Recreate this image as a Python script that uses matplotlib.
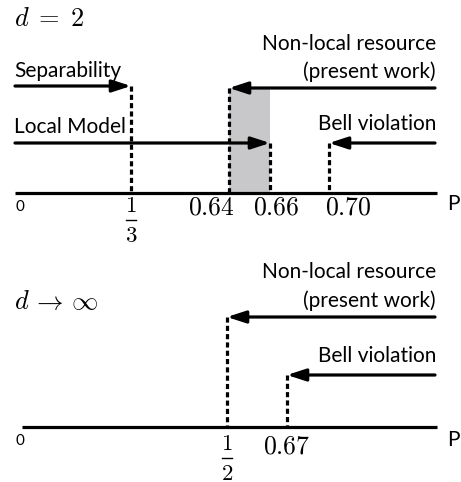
import matplotlib
matplotlib.use('Agg')
import matplotlib.pyplot as plt

plt.rcParams['font.family'] = ['Lato', 'DejaVu Sans']
plt.rcParams['mathtext.fontset'] = 'cm'

# --- d = 2 panel: thresholds on p (drawn schematically, not to scale)
d2_values = [1/3, 0.64, 0.66, 0.70]
d2_labels = [('1', '3'), r'$0.64$', r'$0.66$', r'$0.70$']
d2_xpos = [131, 229, 270, 329]   # schematic positions along the axis

# --- d -> infinity panel
dinf_values = [0.5, 0.67]
dinf_labels = [('1', '2'), r'$0.67$']
dinf_xpos = [227, 287]

LW = 2.3
DASH = (0, (1.6, 1.0))
GREY = '#c8c8ca'

fig = plt.figure(figsize=(4.61, 4.82), dpi=100)
ax = fig.add_axes([0, 0, 1, 1])
ax.set_xlim(0, 461)
ax.set_ylim(482, 0)
ax.axis('off')


def arrow(x0, x1, y):
    ax.annotate('', xy=(x1, y), xytext=(x0, y),
                arrowprops=dict(arrowstyle='-|>,head_length=0.8,head_width=0.26',
                                lw=LW, color='black', shrinkA=0, shrinkB=0,
                                mutation_scale=14))


def dashed(x, ytop, ybot):
    ax.plot([x, x], [ytop, ybot], color='black', lw=LW, ls=DASH,
            solid_capstyle='butt', dash_capstyle='butt')


def frac(x, ytop, num, den):
    # stacked fraction drawn as numerator / bar / denominator
    ax.text(x, ytop, '$%s$' % num, fontsize=16.5, va='center', ha='center')
    ax.plot([x - 5, x + 5], [ytop + 15, ytop + 15], color='black', lw=1.0)
    ax.text(x, ytop + 30, '$%s$' % den, fontsize=16.5, va='center', ha='center')


tsize = 15
msize = 18.5

# ---------------- top panel ----------------
y_axis = 193
ax.text(14, 19, r'$d\;=\;2$', fontsize=19, va='center', ha='left')

# shaded gap between 0.64 and 0.66
ax.fill_between([d2_xpos[1], d2_xpos[2]], 88, y_axis, color=GREY, lw=0)

ax.plot([15, 437], [y_axis, y_axis], color='black', lw=LW, solid_capstyle='butt')

# separability
ax.text(14, 71, 'Separability', fontsize=tsize, va='center', ha='left')
arrow(15, d2_xpos[0], 86)
dashed(d2_xpos[0], 86, y_axis)

# non-local resource
ax.text(436, 44, 'Non-local resource', fontsize=tsize, va='center', ha='right')
ax.text(436, 72, '(present work)', fontsize=tsize, va='center', ha='right')
arrow(435, d2_xpos[1], 88)
dashed(d2_xpos[1], 88, y_axis)

# local model
ax.text(14, 127, 'Local Model', fontsize=tsize, va='center', ha='left')
arrow(15, d2_xpos[2], 143)
dashed(d2_xpos[2], 143, y_axis)

# bell violation
ax.text(436, 124, 'Bell violation', fontsize=tsize, va='center', ha='right')
arrow(435, d2_xpos[3], 143)
dashed(d2_xpos[3], 143, y_axis)

# tick labels
ax.text(20, 207, '0', fontsize=11, va='center', ha='center')
frac(d2_xpos[0], 205, *d2_labels[0])
ax.text(d2_xpos[1] + 6, 207, d2_labels[1], fontsize=msize, va='center', ha='right')
ax.text(d2_xpos[2] + 6, 207, d2_labels[2], fontsize=msize, va='center', ha='center')
ax.text(d2_xpos[3] - 4, 207, d2_labels[3], fontsize=msize, va='center', ha='left')
ax.text(460, 204, 'P', fontsize=15, va='center', ha='right')

# ---------------- bottom panel ----------------
y_axis2 = 427
ax.text(14, 302, r'$d\,\rightarrow\,\infty$', fontsize=19, va='center', ha='left')

ax.plot([22, 437], [y_axis2, y_axis2], color='black', lw=LW, solid_capstyle='butt')

ax.text(436, 272, 'Non-local resource', fontsize=tsize, va='center', ha='right')
ax.text(436, 301, '(present work)', fontsize=tsize, va='center', ha='right')
arrow(435, dinf_xpos[0], 317)
dashed(dinf_xpos[0], 317, y_axis2)

ax.text(436, 356, 'Bell violation', fontsize=tsize, va='center', ha='right')
arrow(435, dinf_xpos[1], 375)
dashed(dinf_xpos[1], 375, y_axis2)

ax.text(20, 441, '0', fontsize=11, va='center', ha='center')
frac(dinf_xpos[0], 443, *dinf_labels[0])
ax.text(dinf_xpos[1], 446, dinf_labels[1], fontsize=msize, va='center', ha='center')
ax.text(460, 440, 'P', fontsize=15, va='center', ha='right')

fig.savefig('out.png', dpi=100)
